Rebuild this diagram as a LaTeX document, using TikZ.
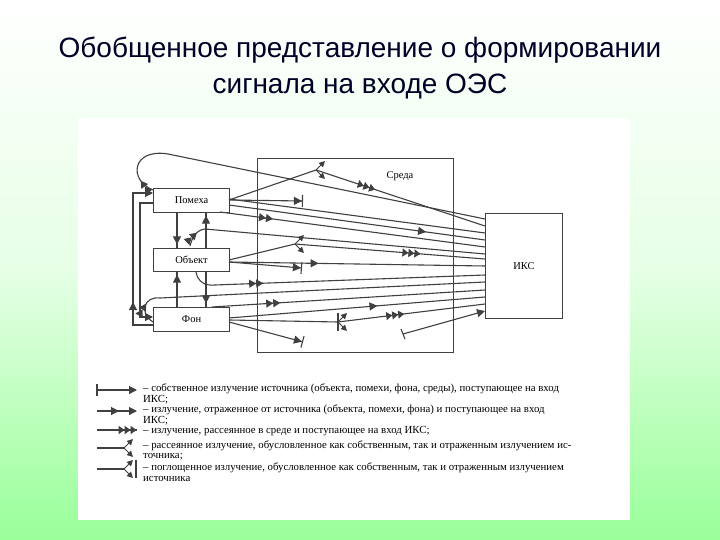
\documentclass[tikz,border=0pt]{standalone}
\usepackage{fontspec}
\setmainfont{Liberation Serif}
\newfontfamily\titlefont{Liberation Sans}
\usetikzlibrary{arrows.meta,decorations.markings}
\begin{document}
\begin{tikzpicture}[x=1pt,y=-1pt,
 ln/.style={draw=black!75,line width=1.1pt},
 m1/.style={postaction={decorate,decoration={markings,mark=at position #1 with {\arrow{Triangle[length=8pt,width=8pt]}}}}},
 m2/.style={postaction={decorate,decoration={markings,mark=at position #1 with {\arrow{Triangle[length=7pt,width=8pt]Triangle[length=7pt,width=8pt]}}}}},
 m3/.style={postaction={decorate,decoration={markings,mark=at position #1 with {\arrow{Triangle[length=6pt,width=8pt]Triangle[length=6pt,width=8pt]Triangle[length=6pt,width=8pt]}}}}},
 absorb/.style={-{Triangle[length=8pt,width=8pt]Bar[width=12pt]}},
 endarrow/.style={-{Triangle[length=8pt,width=8pt]}},
 box/.style={draw=black!75,line width=1.1pt,fill=white,font=\fontsize{10.5}{12}\selectfont},
 scat/.pic={\draw[black!75,line width=1pt,-{Triangle[length=6pt,width=6pt]}] (0,0)--(9,-9);
            \draw[black!75,line width=1pt,-{Triangle[length=6pt,width=6pt]}] (0,0)--(9,9);},
 leg/.style={anchor=west,font=\fontsize{10.8}{12}\selectfont,inner sep=0pt}]
\useasboundingbox (0,0) rectangle (720,540);
\shade[top color=white,bottom color=green!40!white,middle color=green!10!white] (0,0) rectangle (720,540);
\fill[white] (78,118) rectangle (630,520);
\node[font=\titlefont\fontsize{28}{36}\selectfont,align=center,text=black!85!blue] (title) at (360,68) {Обобщенное представление о формировании\\сигнала на входе ОЭС};
% environment
\node[draw=black!75,line width=1.1pt,minimum width=196pt,minimum height=194pt,anchor=north west] (env) at (257,158) {};
\node[font=\fontsize{10.5}{12}\selectfont] (envl) at (400,176) {Среда};
\node[box,minimum width=77pt,minimum height=105pt,anchor=north west] (iks) at (485,213) {ИКС};
\node[box,minimum width=76pt,minimum height=24pt,anchor=north west] (pom) at (153,188) {Помеха};
\node[box,minimum width=76pt,minimum height=23pt,anchor=north west] (obj) at (153,248) {Объект};
\node[box,minimum width=76pt,minimum height=24pt,anchor=north west] (fon) at (153,307) {Фон};
% vertical links
\draw[ln,m1=0.9] (177,212) -- (177,248);
\draw[ln,m1=0.9] (206,248) -- (206,212);
\draw[ln,m1=0.9] (177,307) -- (177,271);
\draw[ln,m1=0.9] (206,271) -- (206,307);
% feedback loops
\draw[ln,endarrow,m1=0.25] (153,325) -- (133,325) -- (133,193) -- (153,193);
\draw[ln,endarrow] (153,203) -- (140,203) -- (140,317) -- (153,317);
% scatter / absorb endpoints
\coordinate (s1) at (316,170);
\coordinate (s2) at (295,244);
\coordinate (s3) at (338,322);
\draw[ln] (229,200) -- (s1); \pic at (s1) {scat};
\draw[ln,absorb] (229,200) -- (303,201);
\draw[ln] (229,260) -- (s2); \pic at (s2) {scat};
\draw[ln,absorb] (229,262) -- (302,268);
\draw[ln] (229,320) -- (s3); \pic at (s3) {scat};
\draw[ln,absorb] (229,322) -- (303,342);
\draw[ln] (338,313)--(338,331);
% lines to IKS
\draw[ln,m2=0.04] (153,190) .. controls (128,180) and (132,148) .. (168,154) -- (485,219);
\draw[ln,m3=0.35] (s1) -- (485,226);
\draw[ln] (229,199) -- (485,233);
\draw[ln,m1=0.77] (229,205) -- (485,240);
\draw[ln,m2=0.2] (220,212) -- (485,247);
\draw[ln,m2=0.05] (190,246) .. controls (192,238) and (196,230) .. (205,229) -- (485,254);
\draw[ln,m3=0.66] (s2) -- (485,259);
\draw[ln,m1=0.35] (229,262) -- (485,266);
\draw[ln,m2=0.25] (196,272) .. controls (198,282) and (205,286) .. (215,285) -- (485,275);
\draw[ln,m2=0.06] (153,322) .. controls (138,312) and (145,296) .. (160,298) -- (485,282);
\draw[ln,m2=0.25] (212,307) -- (485,290);
\draw[ln,m1=0.58] (229,318) -- (485,297);
\draw[ln,m3=0.45] (s3) -- (485,304);
\draw[ln,endarrow] (403,334) -- (485,311);
\draw[ln] (401,329) -- (405,339);
% legend
\coordinate (a1) at (97,390); \draw[ln,endarrow] (a1) -- ++(40,0); \draw[ln] (97,384)--(97,396);
\coordinate (a2) at (97,411); \draw[ln,endarrow,m1=0.55] (a2) -- ++(40,0);
\coordinate (a3) at (97,430); \draw[ln,m3=0.99] (a3) -- ++(40,0);
\coordinate (a4) at (97,448); \draw[ln] (a4) -- ++(27,0); \pic at (124,448) {scat};
\coordinate (a5) at (97,469); \draw[ln] (a5) -- ++(27,0); \pic at (124,469) {scat}; \draw[ln] (136,460)--(136,478);
\node[leg] (t1) at (143,389) {– собственное излучение источника (объекта, помехи, фона, среды), поступающее на вход};
\node[leg] (t1b) at (143,400) {ИКС;};
\node[leg] (t2) at (143,410) {– излучение, отраженное от источника (объекта, помехи, фона) и поступающее на вход};
\node[leg] (t2b) at (143,421) {ИКС;};
\node[leg] (t3) at (143,431) {– излучение, рассеянное в среде и поступающее на вход ИКС;};
\node[leg] (t4) at (143,446) {– рассеянное излучение, обусловленное как собственным, так и отраженным излучением ис-};
\node[leg] (t4b) at (143,457) {точника;};
\node[leg] (t5) at (143,468) {– поглощенное излучение, обусловленное как собственным, так и отраженным излучением};
\node[leg] (t5b) at (143,479) {источника};
\end{tikzpicture}
\end{document}
